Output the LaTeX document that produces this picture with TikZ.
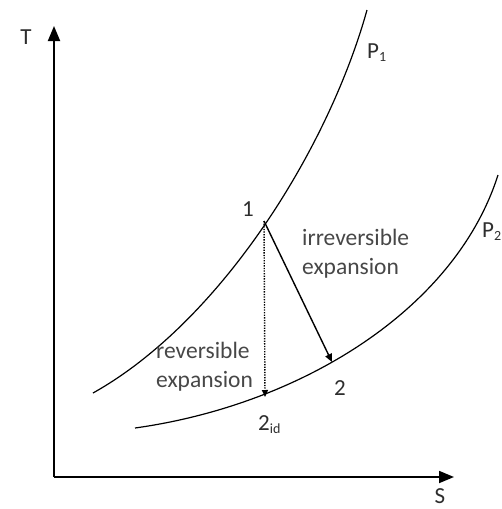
\documentclass[tikz,border=0pt]{standalone}
\usepackage{fontspec}
\setmainfont{Carlito}
\usetikzlibrary{arrows.meta}
\begin{document}
\begin{tikzpicture}[x=1pt,y=-1pt,
  curve/.style={line width=1.2pt},
  axis/.style={line width=1.8pt,-{Triangle[length=15pt,width=12pt]}},
  lbl/.style={font=\fontsize{23}{25}\selectfont,text=black!82,inner sep=0pt},
  txt/.style={font=\fontsize{23.5}{29}\selectfont,text=black!72,inner sep=0pt,align=left}]
\useasboundingbox (0,0) rectangle (502,509);
\coordinate (O) at (54,477);
\coordinate (Ty) at (54,26);
\coordinate (Sx) at (454,477);
\draw[axis] (O) -- (Ty);
\draw[axis] (O) -- (Sx);
\node[lbl] (T) at (26,37) {T};
\node[lbl] (S) at (440,496) {S};
% P1
\coordinate (a1) at (93,393);
\coordinate (b1) at (367,10);
\draw[curve] (a1) .. controls (220,322) and (328,150) .. (b1);
% P2
\coordinate (a2) at (135,428);
\coordinate (b2) at (498,175);
\draw[curve] (a2) .. controls (300,405) and (455,310) .. (b2);
\coordinate (p1) at (264,221);
\coordinate (p2) at (332,362);
\coordinate (p2id) at (265,397);
\draw[line width=1.4pt,-{Triangle[length=8pt,width=7pt]}] (p1) -- (p2);
\draw[line width=1.4pt,dash pattern=on 1.3pt off 1.3pt,-{Triangle[length=7pt,width=6pt]}] (p1) -- (p2id);
\node[lbl] (n1) at (248,209) {1};
\node[lbl] (n2) at (340,388) {2};
\node[lbl,anchor=west] (n2id) at (258,425) {2\raisebox{-3pt}{\fontsize{14}{15}\selectfont id}};
\node[lbl,anchor=west] (P1) at (367,53) {P\raisebox{-3pt}{\fontsize{14}{15}\selectfont 1}};
\node[lbl,anchor=west] (P2) at (482,232) {P\raisebox{-3pt}{\fontsize{14}{15}\selectfont 2}};
\node[txt,anchor=north west] (irr) at (302,229) {irreversible\\expansion};
\node[txt,anchor=north west] (rev) at (156,342) {reversible\\expansion};
\end{tikzpicture}
\end{document}
